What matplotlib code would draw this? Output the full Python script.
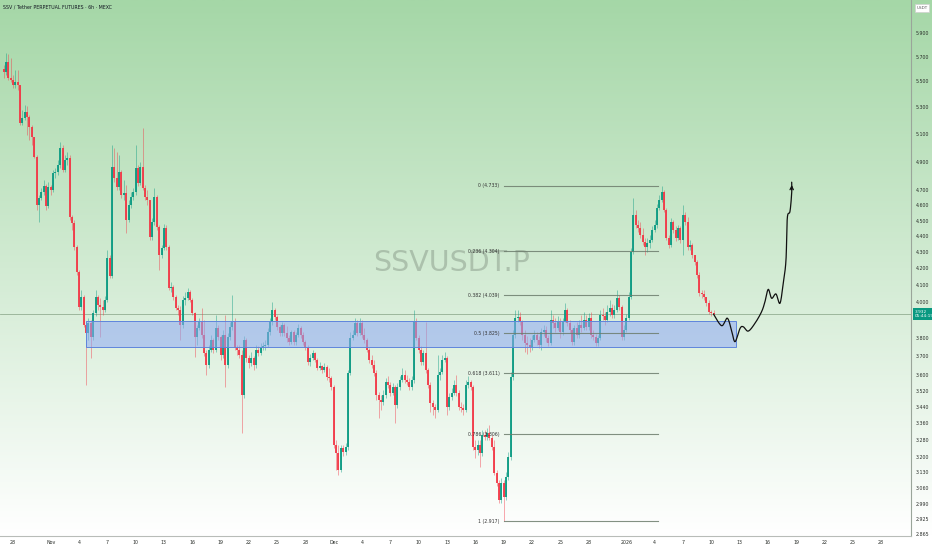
import numpy as np
import pandas as pd
import matplotlib
matplotlib.use("Agg")
import matplotlib.pyplot as plt
import matplotlib.dates as mdates
from matplotlib.patches import Rectangle
from matplotlib.ticker import FixedLocator, FixedFormatter, NullLocator
from matplotlib.transforms import blended_transform_factory

# ---------------- data (SSV/USDT perpetual, 6h candles) ----------------
candle_start = "2025-10-27 00:00"
first_open = 5.600

close_s1 = [5.575,5.656,5.527,5.511,5.471,5.495,5.471,5.180,5.217,5.263,
            5.225,5.150,5.076,4.932,4.602,4.649,4.689,4.730,4.595,4.723,
            4.703,4.819,4.826,4.876,4.996,4.840,4.911,4.925,4.524,4.485,
            4.332,4.178,3.972]
high_s1 = [5.631,5.730,5.722,5.689,5.551,5.591,5.591,5.471,5.278,5.316,
           5.308,5.240,5.165,5.076,4.946,4.669,4.716,4.771,4.744,4.757,
           4.737,4.840,4.854,4.911,5.040,5.018,4.946,4.968,4.946,4.537,
           4.504,4.344,4.190]
low_s1 = [5.527,5.551,5.511,5.495,5.448,5.448,5.432,5.165,5.165,5.202,
          5.091,5.054,5.018,4.925,4.569,4.491,4.635,4.669,4.569,4.582,
          4.669,4.689,4.785,4.806,4.854,4.826,4.826,4.876,4.504,4.439,
          4.313,4.160,3.955]

close_s2 = [4.030,3.871,3.827,3.882,3.804,3.938,4.030,3.984,3.972,3.955,
            4.013,4.263,4.154,4.861,4.785,4.723,4.826,4.669,4.683,4.504,
            4.602,4.655,4.689,4.854,4.750,4.861,4.716,4.655,4.635,4.395,
            4.491,4.655,4.459,4.282,4.326,4.452,4.332,4.083,4.089,4.030,
            3.967,3.955]
high_s2 = [4.071,4.042,3.882,3.910,3.899,3.955,4.071,4.042,4.025,4.013,
           4.036,4.313,4.282,5.018,4.996,4.968,4.946,4.840,4.771,4.737,
           4.635,4.689,4.716,5.018,4.876,4.897,5.143,4.737,4.703,4.635,
           4.517,4.716,4.669,4.472,4.344,4.478,4.472,4.344,4.118,4.100,
           4.042,3.984]
low_s2 = [3.955,3.860,3.550,3.788,3.691,3.788,3.921,3.955,3.804,3.927,
          3.944,4.001,4.142,4.142,4.757,4.703,4.703,4.649,4.635,4.420,
          4.491,4.582,4.635,4.669,4.730,4.737,4.703,4.635,4.602,4.376,
          4.376,4.472,4.439,4.190,4.263,4.313,4.313,4.071,4.059,4.013,
          3.955,3.927]

close_s3 = [3.871,4.013,4.025,4.059,4.013,3.938,3.804,3.854,3.888,3.816,
            3.718,3.654,3.734,3.788,3.734,3.854,3.804,3.707,3.816,3.654,
            3.804,3.860,3.888,3.745,3.734]
high_s3 = [3.978,4.036,4.059,4.083,4.071,4.025,3.944,3.871,3.910,3.967,
           3.899,3.734,3.761,3.816,3.799,3.927,3.871,3.816,3.843,3.927,
           3.827,3.888,4.042,3.910,3.761]
low_s3 = [3.788,3.854,3.984,4.013,4.001,3.927,3.696,3.761,3.843,3.799,
          3.702,3.601,3.638,3.723,3.718,3.723,3.788,3.680,3.691,3.539,
          3.638,3.788,3.843,3.734,3.707]

close_s4 = [3.707,3.499,3.788,3.691,3.664,3.691,3.654,3.734,3.718,3.745,
            3.756,3.761,3.832,3.888,3.955,3.916,3.860,3.827,3.871,3.827,
            3.799,3.777,3.832,3.777,3.816,3.854,3.816,3.777,3.745,3.670,
            3.691,3.718,3.680,3.638,3.648,3.627,3.643,3.591,3.585,3.539,
            3.255,3.218,3.140,3.241,3.223,3.246,3.611,3.799,3.816]
high_s4 = [3.761,3.734,3.810,3.799,3.707,3.723,3.702,3.761,3.756,3.772,
           3.777,3.788,3.854,3.910,4.001,3.967,3.927,3.871,3.888,3.882,
           3.865,3.816,3.843,3.843,3.832,3.876,3.865,3.832,3.788,3.761,
           3.713,3.734,3.723,3.691,3.670,3.654,3.664,3.654,3.638,3.596,
           3.550,3.279,3.255,3.255,3.255,3.265,3.627,3.832,3.843]
low_s4 = [3.691,3.313,3.484,3.670,3.638,3.648,3.627,3.638,3.702,3.707,
          3.734,3.734,3.750,3.816,3.871,3.899,3.843,3.810,3.810,3.810,
          3.777,3.761,3.766,3.761,3.761,3.804,3.799,3.761,3.734,3.654,
          3.648,3.680,3.670,3.627,3.627,3.611,3.617,3.575,3.565,3.524,
          3.241,3.140,3.118,3.131,3.204,3.209,3.232,3.601,3.788]

close_s5 = [3.882,3.827,3.882,3.816,3.788,3.734,3.680,3.654,3.611,3.499,
            3.474,3.464,3.499,3.565,3.550,3.509,3.539,3.449,3.539,3.575,
            3.601,3.575,3.565,3.539,3.575,3.888,3.799,3.734,3.670,3.718,
            3.627,3.550,3.459,3.439,3.424,3.601,3.617,3.680,3.691,3.439,
            3.489,3.509,3.550,3.509,3.439,3.434,3.424,3.550,3.565]
high_s5 = [3.910,3.899,3.910,3.899,3.854,3.799,3.745,3.707,3.680,3.627,
           3.514,3.499,3.524,3.585,3.596,3.565,3.560,3.550,3.560,3.596,
           3.638,3.627,3.601,3.585,3.596,3.955,3.910,3.816,3.756,3.734,
           3.888,3.638,3.565,3.474,3.454,3.707,3.638,3.707,3.723,3.702,
           3.509,3.534,3.575,3.601,3.524,3.464,3.454,3.575,3.596]
low_s5 = [3.816,3.810,3.816,3.799,3.772,3.723,3.664,3.638,3.596,3.474,
          3.385,3.424,3.449,3.484,3.534,3.494,3.499,3.361,3.434,3.524,
          3.565,3.560,3.550,3.524,3.524,3.560,3.788,3.718,3.654,3.654,
          3.611,3.534,3.414,3.400,3.385,3.414,3.575,3.606,3.670,3.400,
          3.424,3.474,3.499,3.494,3.424,3.414,3.400,3.414,3.534]

close_s6 = [3.539,3.246,3.232,3.255,3.218,3.303,3.293,3.313,3.289,3.246,
            3.127,3.082,3.007,3.082,3.020,3.109,3.200,3.591,3.816,3.910,
            3.916,3.888,3.816,3.772,3.761,3.750,3.788,3.816,3.788,3.761,
            3.832,3.843,3.799,3.772,3.899,3.882,3.854,3.888,3.832,3.888,
            3.955,3.882,3.843,3.777,3.854,3.816,3.871,3.854,3.899,3.860,
            3.910,3.816,3.804,3.772,3.799,3.927,3.921,3.899,3.944,3.967,
            3.927,3.955,4.025,3.972,3.804,3.843,3.910,4.030,4.300,4.537,
            4.472,4.452,4.408,4.363,4.332,4.357,4.376,4.439,4.472,4.582,
            4.635,4.689,4.569,4.389,4.344,4.491,4.439,4.389,4.452,4.376,
            4.537,4.491,4.332,4.344,4.282,4.239,4.160,4.054,4.048,4.030,
            3.996,3.944,3.938,3.932]
high_s6 = [3.575,3.550,3.279,3.279,3.279,3.327,3.327,3.337,3.351,3.303,
           3.279,3.140,3.095,3.104,3.095,3.131,3.223,3.617,3.843,3.955,
           3.955,3.944,3.899,3.843,3.810,3.799,3.816,3.843,3.832,3.810,
           3.854,3.871,3.865,3.816,3.955,3.927,3.910,3.921,3.910,3.910,
           3.996,3.967,3.899,3.854,3.871,3.888,3.899,3.927,3.944,3.927,
           3.938,3.944,3.843,3.821,3.816,3.955,3.967,3.944,3.984,4.013,
           3.990,3.984,4.071,4.042,3.984,3.871,3.932,4.059,4.326,4.649,
           4.569,4.504,4.491,4.452,4.389,4.389,4.408,4.465,4.504,4.608,
           4.669,4.733,4.703,4.582,4.408,4.517,4.504,4.465,4.472,4.465,
           4.602,4.556,4.524,4.376,4.357,4.282,4.251,4.178,4.071,4.071,
           4.030,4.013,3.955,3.955]
low_s6 = [3.524,3.232,3.195,3.209,3.154,3.204,3.279,3.279,3.279,3.232,
          3.118,3.069,2.994,2.994,2.917,3.007,3.095,3.186,3.575,3.799,
          3.888,3.871,3.788,3.723,3.713,3.723,3.734,3.777,3.761,3.745,
          3.734,3.810,3.777,3.756,3.761,3.854,3.832,3.843,3.799,3.816,
          3.910,3.865,3.827,3.761,3.761,3.799,3.799,3.832,3.843,3.843,
          3.843,3.799,3.788,3.756,3.756,3.788,3.899,3.871,3.888,3.921,
          3.910,3.910,3.944,3.955,3.788,3.788,3.832,3.899,4.019,4.288,
          4.452,4.426,4.389,4.344,4.282,4.300,4.326,4.363,4.426,4.452,
          4.569,4.622,4.556,4.376,4.326,4.332,4.420,4.370,4.376,4.357,
          4.282,4.472,4.313,4.313,4.263,4.221,4.142,4.036,4.025,4.013,
          3.978,3.932,3.921,3.927]

# support zone (blue box)
zone_start, zone_end = "2025-11-04 18:00", "2026-01-12 15:00"
zone_low, zone_high = 3.752, 3.895

# fibonacci retracement
fib_ratios = [0, 0.236, 0.382, 0.5, 0.618, 0.786, 1]
fib_ratio_text = ["0", "0.236", "0.382", "0.5", "0.618", "0.786", "1"]

# projected path (hand-drawn arrow)
proj_times = ["2026-01-10 06:00", "2026-01-11 02:40", "2026-01-11 17:00", "2026-01-12 03:40",
              "2026-01-12 12:40", "2026-01-13 01:30", "2026-01-13 09:40", "2026-01-13 22:20",
              "2026-01-14 15:20", "2026-01-15 08:20", "2026-01-15 16:50", "2026-01-16 01:10",
              "2026-01-16 09:50", "2026-01-16 20:50", "2026-01-17 07:00", "2026-01-17 15:20",
              "2026-01-17 22:20", "2026-01-18 01:40", "2026-01-18 08:30", "2026-01-18 12:50",
              "2026-01-18 12:50"]
proj_prices = [3.932, 3.867, 3.909, 3.843, 3.779, 3.852, 3.861, 3.837, 3.880, 3.946, 4.003,
               4.075, 4.023, 4.048, 3.994, 4.111, 4.251, 4.516, 4.560, 4.683, 4.756]

last_price = 3.932
countdown = "05:44:19"

ytick_vals = [5.9, 5.7, 5.5, 5.3, 5.1, 4.9, 4.7, 4.6, 4.5, 4.4, 4.3, 4.2, 4.1, 4.0,
              3.8, 3.7, 3.6, 3.52, 3.44, 3.36, 3.28, 3.2, 3.13, 3.06, 2.99, 2.925, 2.865]
ytick_labels = ["%.3f" % v for v in ytick_vals]
xtick_dates = ["2025-10-28", "2025-11-01", "2025-11-04", "2025-11-07", "2025-11-10", "2025-11-13",
               "2025-11-16", "2025-11-19", "2025-11-22", "2025-11-25", "2025-11-28", "2025-12-01",
               "2025-12-04", "2025-12-07", "2025-12-10", "2025-12-13", "2025-12-16", "2025-12-19",
               "2025-12-22", "2025-12-25", "2025-12-28", "2026-01-01", "2026-01-04", "2026-01-07",
               "2026-01-10", "2026-01-13", "2026-01-16", "2026-01-19", "2026-01-22", "2026-01-25",
               "2026-01-28"]
xtick_labels = ["28", "Nov", "4", "7", "10", "13", "16", "19", "22", "25", "28", "Dec", "4", "7",
                "10", "13", "16", "19", "22", "25", "28", "2026", "4", "7", "10", "13", "16", "19",
                "22", "25", "28"]

# ---------------- assemble ----------------
close = np.array(close_s1 + close_s2 + close_s3 + close_s4 + close_s5 + close_s6)
high = np.array(high_s1 + high_s2 + high_s3 + high_s4 + high_s5 + high_s6)
low = np.array(low_s1 + low_s2 + low_s3 + low_s4 + low_s5 + low_s6)
opn = np.concatenate([[first_open], close[:-1]])
high = np.maximum(high, np.maximum(opn, close))
low = np.minimum(low, np.minimum(opn, close))
times = pd.date_range(candle_start, periods=len(close), freq="6h")
t = mdates.date2num(times.to_pydatetime())

def dn(s):
    return mdates.date2num(pd.Timestamp(s).to_pydatetime())

W, H = 932, 550
fig = plt.figure(figsize=(W / 100, H / 100), dpi=100, facecolor="white")

# background gradient (chart + price scale)
bg = fig.add_axes([0, 14 / H, 1, 536 / H], zorder=0)
g = np.linspace(0, 1, 300)[:, None, None]
top_c = np.array([165, 215, 167]) / 255.0
bot_c = np.array([255, 255, 255]) / 255.0
img = top_c + (bot_c - top_c) * g
bg.imshow(img, aspect="auto", extent=[0, 1, 0, 1], interpolation="bilinear")
bg.set_axis_off()

ax = fig.add_axes([0, 14 / H, 911 / W, 536 / H], zorder=1)
ax.patch.set_alpha(0)
ax.set_yscale("log")
ax.set_ylim(2.8554, 6.185)
ax.set_xlim(dn("2025-10-26 15:00"), dn("2026-01-31 04:20"))

# last price line
ax.axhline(last_price, color="#93ae93", lw=0.6, zorder=1)

# candles
up = close >= opn
cols = np.where(up, "#089981", "#f23645")
ax.vlines(t, low, high, colors=cols, lw=0.55, alpha=0.55, zorder=2)
ax.vlines(t, opn, close, colors=cols, lw=1.3, zorder=3)

# zone
z0, z1 = dn(zone_start), dn(zone_end)
ax.add_patch(Rectangle((z0, zone_low), z1 - z0, zone_high - zone_low,
                       facecolor="#8fa9f5", alpha=0.55, edgecolor="none", zorder=4))
ax.add_patch(Rectangle((z0, zone_low), z1 - z0, zone_high - zone_low,
                       facecolor="none", edgecolor="#5f85dc", lw=0.7, zorder=4))

# fib retracement
i_lo = int(np.argmin(low))
i_hi = i_lo + int(np.argmax(high[i_lo:]))
f_lo, f_hi = low[i_lo], high[i_hi]
for r, rt in zip(fib_ratios, fib_ratio_text):
    lvl = f_hi - r * (f_hi - f_lo)
    ax.plot([t[i_lo], t[i_hi] - 0.4], [lvl, lvl], color="#6d7d6d", lw=0.8, alpha=0.85, zorder=5)
    ax.annotate("%s (%.3f)" % (rt, lvl), xy=(t[i_lo], lvl), xytext=(-3, 0),
                textcoords="offset points", ha="right", va="center",
                fontsize=3.3, color="#333333", zorder=6)

# projection path (smooth)
px = np.array([dn(s) for s in proj_times])
py = np.log(np.array(proj_prices))
P = np.column_stack([px, py])
P = np.vstack([P[0], P, P[-1]])
pts = []
for i in range(1, len(P) - 2):
    p0, p1, p2, p3 = P[i - 1], P[i], P[i + 1], P[i + 2]
    for s in np.linspace(0, 1, 14, endpoint=False):
        pts.append(0.5 * (2 * p1 + (-p0 + p2) * s + (2 * p0 - 5 * p1 + 4 * p2 - p3) * s ** 2
                          + (-p0 + 3 * p1 - 3 * p2 + p3) * s ** 3))
pts.append(P[-2])
pts = np.array(pts)
ax.plot(pts[:, 0], np.exp(pts[:, 1]), color="#111111", lw=0.9, zorder=7,
        solid_capstyle="round")
ax.annotate("", xy=(px[-1], proj_prices[-1]), xytext=(px[-1], proj_prices[-1] * 0.985),
            arrowprops=dict(arrowstyle="->", color="#111111", lw=0.9, mutation_scale=6),
            zorder=7)

# watermark
ax.text(452 / 911, 1 - 263 / 536, "SSVUSDT.P", transform=ax.transAxes, ha="center",
        va="center", fontsize=20.5, color="#7f8f7f", alpha=0.45, zorder=1)

# axes styling
for s in ["top", "left"]:
    ax.spines[s].set_visible(False)
ax.spines["right"].set_color("#9aa59a")
ax.spines["right"].set_linewidth(0.8)
ax.spines["bottom"].set_color("#b8bcb8")
ax.spines["bottom"].set_linewidth(0.8)

ax.yaxis.set_major_locator(FixedLocator(ytick_vals))
ax.yaxis.set_major_formatter(FixedFormatter(ytick_labels))
ax.yaxis.set_minor_locator(NullLocator())
ax.yaxis.tick_right()
ax.tick_params(axis="y", which="both", length=0, pad=3.6, labelsize=3.4, labelcolor="#2a2e2a")

ax.xaxis.set_major_locator(FixedLocator([dn(d) for d in xtick_dates]))
ax.xaxis.set_major_formatter(FixedFormatter(xtick_labels))
ax.xaxis.set_minor_locator(NullLocator())
ax.tick_params(axis="x", length=0, pad=3.0, labelsize=3.4, labelcolor="#2a2e2a")

# last price label on scale
tr = blended_transform_factory(ax.transAxes, ax.transData)
ax.annotate("%.3f\n%s" % (last_price, countdown), xy=(1.0, last_price), xycoords=tr,
            xytext=(2.5, 0), textcoords="offset points", ha="left", va="center",
            fontsize=3.1, color="white", linespacing=1.2, annotation_clip=False,
            bbox=dict(boxstyle="square,pad=0.35", fc="#089981", ec="none"), zorder=10)

# header texts
fig.text(3 / W, 1 - 7 / H, "SSV / Tether PERPETUAL FUTURES \u00b7 6h \u00b7 MEXC",
         ha="left", va="center", fontsize=3.4, color="#131722")
fig.text(922 / W, 1 - 8 / H, "USDT", ha="center", va="center", fontsize=3.0, color="#555555",
         bbox=dict(boxstyle="square,pad=0.4", fc="white", ec="#d0d0d0", lw=0.5))

fig.savefig("out.png", dpi=100, facecolor="white")
